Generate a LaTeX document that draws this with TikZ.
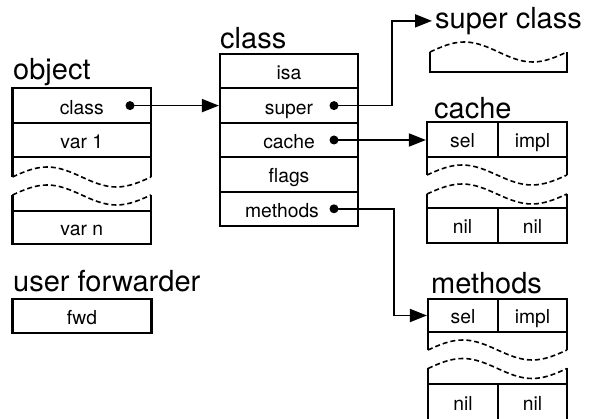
\documentclass[tikz,border=0pt]{standalone}
\usepackage{fontspec}
\setmainfont{TeX Gyre Heros}
\usetikzlibrary{arrows.meta}
\newcommand{\smallfnt}{\fontsize{19.3}{21}\selectfont}
\newcommand{\bigfnt}{\fontsize{29}{32}\selectfont}
\newcommand{\brkwave}[3]{\draw[brk] (#1,#3) sin ({0.75*#1+0.25*#2},{#3-10}) cos ({0.5*#1+0.5*#2},#3) sin ({0.25*#1+0.75*#2},{#3+10}) cos (#2,#3);}
\begin{document}
\begin{tikzpicture}[x=1pt,y=-1pt,
  cell/.style={draw, line width=2.1pt, inner sep=0pt, font=\smallfnt, text height=17pt, text depth=0pt, minimum height=34.4pt},
  side/.style={line width=2.1pt},
  brk/.style={line width=1.6pt, dash pattern=on 5pt off 3pt},
  lbl/.style={font=\bigfnt, inner sep=0pt, anchor=base west},
  dotn/.style={circle, fill, inner sep=0pt, minimum size=9pt},
  link/.style={line width=1.7pt, -{Triangle[length=17pt,width=13pt]}}]
\useasboundingbox (0,0) rectangle (590,419);
\clip (0,0) rectangle (590,419);

% object
\node[lbl] (objl) at (13,79.5) {object};
\node[cell, minimum width=138.5pt] (oclass) at (81.75,105.6) {class};
\node[cell, minimum width=138.5pt] (ovar1) at (81.75,140) {var 1};
\node[cell, minimum width=138.5pt, minimum height=33pt] (ovarn) at (81.75,227.5) {var n};
\draw[side] (12.5,157.2) -- (12.5,177) (151,157.2) -- (151,177)
            (12.5,195) -- (12.5,211) (151,195) -- (151,211);
\brkwave{12.5}{151}{177}
\brkwave{12.5}{151}{195}

% class
\node[lbl] (classl) at (220,48.3) {class};
\node[cell, minimum width=138pt] (cisa) at (289,71.2) {isa};
\node[cell, minimum width=138pt] (csuper) at (289,105.6) {super};
\node[cell, minimum width=138pt] (ccache) at (289,140) {cache};
\node[cell, minimum width=138pt] (cflags) at (289,174.4) {flags};
\node[cell, minimum width=138pt] (cmethods) at (289,208.8) {\kern-14pt methods};

% dots
\node[dotn] (odot) at (130,105.6) {};
\node[dotn] (sdot) at (334,105.6) {};
\node[dotn] (cdot) at (334,140) {};
\node[dotn] (mdot) at (334,208.8) {};

% super class
\node[lbl, inner xsep=3pt] (scl) at (432,28.3) {super class};
\draw[side] (430,52) -- (430,72) -- (567,72) -- (567,52);
\brkwave{430}{567}{52}

% cache
\node[lbl] (cachel) at (434,118.3) {cache};
\node[cell, minimum width=71pt, minimum height=35pt] (csel) at (462.5,139.5) {sel};
\node[cell, minimum width=69pt, minimum height=35pt] (cimpl) at (532.5,139.5) {impl};
\node[cell, minimum width=71pt, minimum height=35pt] (cnila) at (462.5,225.5) {nil};
\node[cell, minimum width=69pt, minimum height=35pt] (cnilb) at (532.5,225.5) {nil};
\draw[side] (427,157) -- (427,175) (567,157) -- (567,175)
            (427,194) -- (427,208) (567,194) -- (567,208);
\brkwave{427}{567}{175}
\brkwave{427}{567}{194}

% methods
\node[lbl] (methl) at (431,293.3) {methods};
\node[cell, minimum width=70pt, minimum height=33pt] (msel) at (463,315.5) {sel};
\node[cell, minimum width=69pt, minimum height=33pt] (mimpl) at (532.5,315.5) {impl};
\node[cell, minimum width=70pt, minimum height=36pt] (mnila) at (463,402) {nil};
\node[cell, minimum width=69pt, minimum height=36pt] (mnilb) at (532.5,402) {nil};
\draw[side] (428,332) -- (428,350) (567,332) -- (567,350)
            (428,368.5) -- (428,384) (567,368.5) -- (567,384);
\brkwave{428}{567}{350}
\brkwave{428}{567}{368.5}

% user forwarder
\node[lbl] (ufl) at (13,291.7) {user forwarder};
\node[cell, minimum width=139pt, minimum height=34pt] (fwd) at (82,316) {fwd};

% connectors
\coordinate (sturn) at (392,0);
\coordinate (mturn) at (394,0);
\draw[link] (odot.center) -- (odot.center -| csuper.west);
\draw[link] (sdot.center) -| (sturn |- scl.west) -- (scl.west);
\draw[link] (cdot.center) -- (cdot.center -| csel.west);
\draw[link] (mdot.center) -| (mturn |- msel.west) -- (msel.west);
\end{tikzpicture}
\end{document}
